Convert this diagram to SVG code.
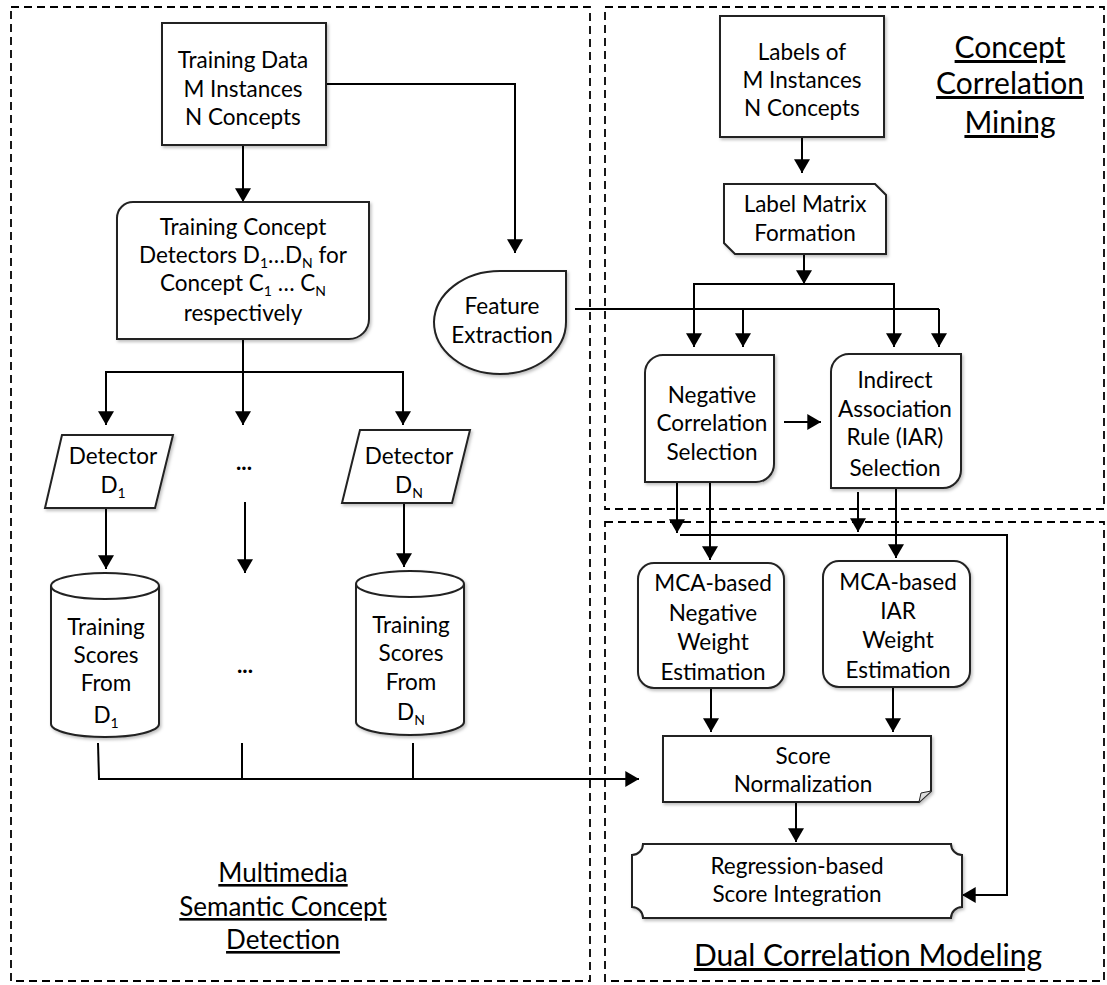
<svg xmlns="http://www.w3.org/2000/svg" width="1107" height="985" viewBox="0 0 1107 985">
<style>
.panel{fill:none;stroke:#000;stroke-width:1.8;stroke-dasharray:8,5}
.shape{fill:#fff;stroke:#222;stroke-width:2;filter:url(#sh)}
.t{font-family:Lato,"Open Sans","Liberation Sans",sans-serif;font-size:22.5px;fill:#000;text-anchor:middle}
.title{font-family:Lato,"Open Sans","Liberation Sans",sans-serif;font-size:30px;fill:#000;text-anchor:middle;text-decoration:underline}
.title2{font-family:Lato,"Open Sans","Liberation Sans",sans-serif;font-size:26px;fill:#000;text-anchor:middle;text-decoration:underline}
.c{fill:none;stroke:#000;stroke-width:2}
.a{fill:none;stroke:#000;stroke-width:2;marker-end:url(#ah)}
.sub{font-size:14px}
</style>
<defs>
<marker id="ah" markerUnits="userSpaceOnUse" markerWidth="16" markerHeight="16" viewBox="0 0 12 14" refX="12" refY="7" orient="auto">
<path d="M0,0 L12,7 L0,14 Z" fill="#000"/>
</marker>
<filter id="sh" x="-10%" y="-10%" width="125%" height="130%">
<feDropShadow dx="1.5" dy="2" stdDeviation="1.5" flood-color="#000" flood-opacity="0.25"/>
</filter>
</defs>
<rect width="1107" height="985" fill="#fff"/>

<g id="panels">
<rect class="panel" x="11" y="7" width="579" height="974"/>
<rect class="panel" x="605" y="7" width="499" height="502"/>
<rect class="panel" x="605" y="522" width="499" height="459"/>
</g>

<g id="connectors">
<polyline class="a" points="326,84 515,84 515,253"/>
<line class="a" x1="243" y1="145" x2="243" y2="202"/>
<line class="a" x1="243" y1="339" x2="243" y2="425"/>
<polyline class="c" points="106,425 106,372 403,372 403,425"/>
<line class="a" x1="106" y1="372" x2="106" y2="425"/>
<line class="a" x1="403" y1="372" x2="403" y2="425"/>
<line class="a" x1="106" y1="508" x2="106" y2="569"/>
<line class="a" x1="245" y1="502" x2="245" y2="573"/>
<line class="a" x1="404" y1="503" x2="404" y2="567"/>
<line class="c" x1="98" y1="743" x2="99" y2="779"/>
<line class="c" x1="242" y1="743" x2="242" y2="779"/>
<line class="c" x1="413" y1="743" x2="413" y2="779"/>
<line class="a" x1="98" y1="779" x2="639" y2="779"/>
<line class="a" x1="802" y1="137" x2="802" y2="173"/>
<line class="a" x1="804" y1="254" x2="804" y2="284"/>
<polyline class="c" points="694,347 694,284 894,284 894,347"/>
<line class="a" x1="694" y1="284" x2="694" y2="347"/>
<line class="a" x1="894" y1="284" x2="894" y2="347"/>
<line class="c" x1="575" y1="309" x2="939" y2="309"/>
<line class="a" x1="743" y1="309" x2="743" y2="347"/>
<line class="a" x1="939" y1="309" x2="939" y2="347"/>
<line class="a" x1="784" y1="422" x2="821" y2="422"/>
<line class="a" x1="677" y1="482" x2="677" y2="533"/>
<line class="a" x1="710" y1="482" x2="710" y2="560"/>
<line class="a" x1="858" y1="492" x2="858" y2="532"/>
<line class="a" x1="896" y1="488" x2="896" y2="558"/>
<polyline class="a" points="680,535 1007,535 1007,895 962,895"/>
<line class="a" x1="711" y1="688" x2="711" y2="732"/>
<line class="a" x1="893" y1="687" x2="893" y2="732"/>
<line class="a" x1="796" y1="802" x2="796" y2="842"/>
</g>

<g id="training-data">
<rect class="shape" x="162" y="23" width="164" height="122"/>
<text class="t" x="243" y="68">Training Data</text>
<text class="t" x="243" y="97">M Instances</text>
<text class="t" x="243" y="125">N Concepts</text>
</g>

<g id="training-detectors">
<path class="shape" d="M117,218 A16,16 0 0 1 133,202 L369,202 L369,319 A20,20 0 0 1 349,339 L117,339 Z"/>
<text class="t" x="243" y="235">Training Concept</text>
<text class="t" x="243" y="263">Detectors D<tspan class="sub" dy="5">1</tspan><tspan dy="-5">…D</tspan><tspan class="sub" dy="5">N</tspan><tspan dy="-5"> for</tspan></text>
<text class="t" x="243" y="291">Concept C<tspan class="sub" dy="5">1</tspan><tspan dy="-5"> … C</tspan><tspan class="sub" dy="5">N</tspan></text>
<text class="t" x="243" y="321">respectively</text>
</g>

<g id="feature-extraction">
<path class="shape" d="M566,271 L566,322 A66,52 0 0 1 500,374 A66,52 0 0 1 434,322 A66,52 0 0 1 500,271 Z"/>
<text class="t" x="502" y="314">Feature</text>
<text class="t" x="502" y="343">Extraction</text>
</g>

<g id="detector-1">
<polygon class="shape" points="62,435 173,435 155,508 45,508"/>
<text class="t" x="113" y="464">Detector</text>
<text class="t" x="113" y="493">D<tspan class="sub" dy="5">1</tspan></text>
</g>

<g id="dots">
<text class="t" x="244" y="470" font-weight="bold">...</text>
<text class="t" x="245" y="673" font-weight="bold">...</text>
</g>

<g id="detector-n">
<polygon class="shape" points="360,430 470,430 452,503 342,503"/>
<text class="t" x="409" y="464">Detector</text>
<text class="t" x="409" y="493">D<tspan class="sub" dy="5">N</tspan></text>
</g>

<g id="scores-1">
<path class="shape" d="M51,586 A54,13 0 0 1 159,586 L159,724 A54,13 0 0 1 51,724 Z"/>
<path d="M51,586 A54,13 0 0 0 159,586" fill="none" stroke="#222" stroke-width="2"/>
<text class="t" x="106" y="635">Training</text>
<text class="t" x="106" y="663">Scores</text>
<text class="t" x="106" y="691">From</text>
<text class="t" x="106" y="723">D<tspan class="sub" dy="5">1</tspan></text>
</g>

<g id="scores-n">
<path class="shape" d="M356,584 A54,13 0 0 1 464,584 L464,722 A54,13 0 0 1 356,722 Z"/>
<path d="M356,584 A54,13 0 0 0 464,584" fill="none" stroke="#222" stroke-width="2"/>
<text class="t" x="411" y="633">Training</text>
<text class="t" x="411" y="661">Scores</text>
<text class="t" x="411" y="690">From</text>
<text class="t" x="411" y="720">D<tspan class="sub" dy="5">N</tspan></text>
</g>

<g id="title-mscd">
<text class="title2" x="283" y="882">Multimedia</text>
<text class="title2" x="283" y="916">Semantic Concept</text>
<text class="title2" x="283" y="949">Detection</text>
</g>

<g id="labels">
<rect class="shape" x="720" y="16" width="164" height="121"/>
<text class="t" x="802" y="60">Labels of</text>
<text class="t" x="802" y="88">M Instances</text>
<text class="t" x="802" y="116">N Concepts</text>
</g>

<g id="title-ccm">
<text class="title" x="1010" y="58">Concept</text>
<text class="title" x="1010" y="94">Correlation</text>
<text class="title" x="1010" y="133">Mining</text>
</g>

<g id="label-matrix">
<polygon class="shape" points="724,184 875,184 886,195 886,254 735,254 724,243"/>
<text class="t" x="805" y="212">Label Matrix</text>
<text class="t" x="805" y="241">Formation</text>
</g>

<g id="negative-selection">
<path class="shape" d="M645,373 A18,18 0 0 1 663,355 L774,355 L774,464 A18,18 0 0 1 756,482 L645,482 Z"/>
<text class="t" x="712" y="403">Negative</text>
<text class="t" x="712" y="431">Correlation</text>
<text class="t" x="712" y="460">Selection</text>
</g>

<g id="iar-selection">
<path class="shape" d="M831,372 A18,18 0 0 1 849,354 L961,354 L961,470 A18,18 0 0 1 943,488 L831,488 Z"/>
<text class="t" x="895" y="388">Indirect</text>
<text class="t" x="895" y="417">Association</text>
<text class="t" x="895" y="445">Rule (IAR)</text>
<text class="t" x="895" y="476">Selection</text>
</g>

<g id="mca-negative">
<rect class="shape" x="638" y="563" width="146" height="125" rx="16"/>
<text class="t" x="713" y="591">MCA-based</text>
<text class="t" x="713" y="621">Negative</text>
<text class="t" x="713" y="650">Weight</text>
<text class="t" x="713" y="680">Estimation</text>
</g>

<g id="mca-iar">
<rect class="shape" x="823" y="561" width="147" height="126" rx="16"/>
<text class="t" x="898" y="590">MCA-based</text>
<text class="t" x="898" y="619">IAR</text>
<text class="t" x="898" y="648">Weight</text>
<text class="t" x="898" y="678">Estimation</text>
</g>

<g id="score-normalization">
<path class="shape" d="M663,736 L931,736 L931,791 L919,802 L663,802 Z"/>
<path d="M931,791 L921,793 L919,802" fill="#ddd" stroke="#222" stroke-width="1"/>
<text class="t" x="803" y="764">Score</text>
<text class="t" x="803" y="792">Normalization</text>
</g>

<g id="regression">
<path class="shape" d="M643,844 L951,844 A11,11 0 0 0 962,855 L962,907 A11,11 0 0 0 951,918 L643,918 A11,11 0 0 0 632,907 L632,855 A11,11 0 0 0 643,844 Z"/>
<text class="t" x="797" y="874">Regression-based</text>
<text class="t" x="797" y="902">Score Integration</text>
</g>

<g id="title-dcm">
<text class="title" x="868" y="966">Dual Correlation Modeling</text>
</g>
</svg>
